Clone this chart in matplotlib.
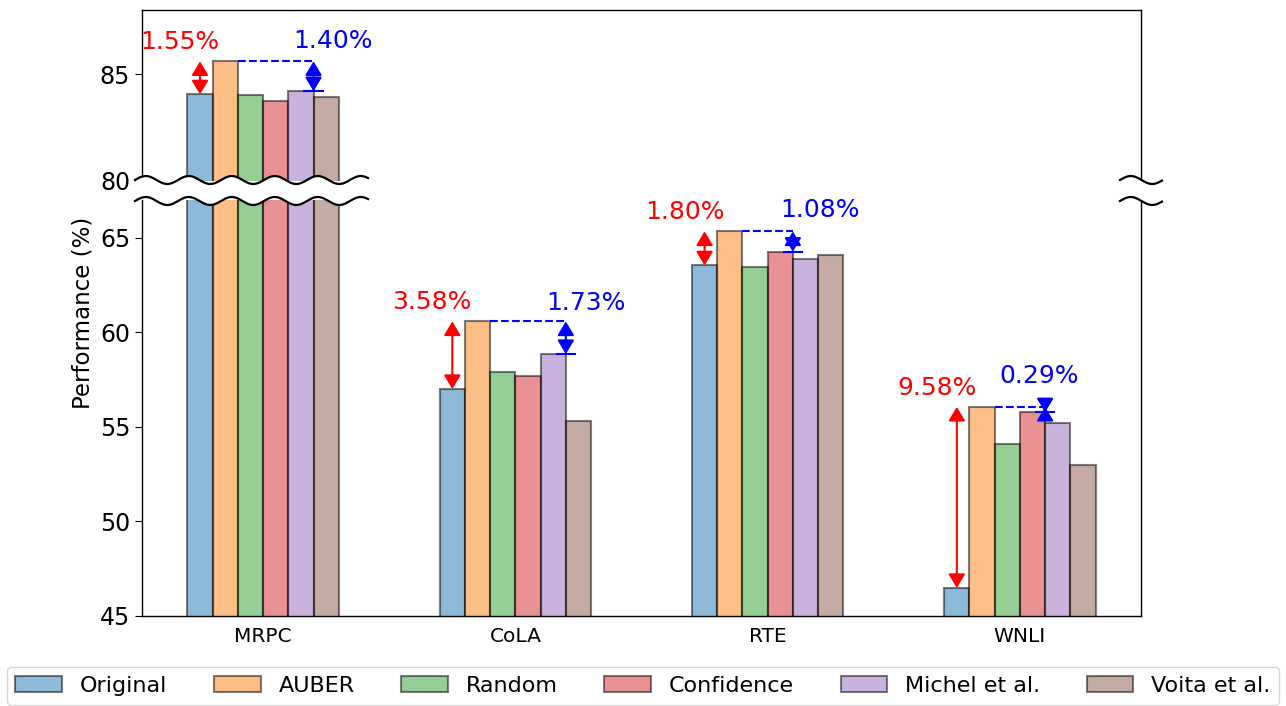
import numpy as np
import matplotlib
matplotlib.use("Agg")
import matplotlib.pyplot as plt

# ---- data -------------------------------------------------------------
tasks = ["MRPC", "CoLA", "RTE", "WNLI"]
methods = ["Original", "AUBER", "Random", "Confidence", "Michel et al.", "Voita et al."]

original = [84.05, 57.00, 63.54, 46.48]
auber = [85.60, 60.58, 65.34, 56.06]
random_prune = [84.01, 57.89, 63.45, 54.08]
confidence = [83.72, 57.70, 64.26, 55.77]
michel = [84.20, 58.85, 63.89, 55.23]
voita = [83.92, 55.33, 64.10, 52.97]

series = [original, auber, random_prune, confidence, michel, voita]
colors = ["tab:blue", "tab:orange", "tab:green", "tab:red", "tab:purple", "tab:brown"]

upper_ticks = [80, 85]
lower_ticks = [45, 50, 55, 60, 65]

# ---- layout -----------------------------------------------------------
W, H = 1286, 706
fig = plt.figure(figsize=(W / 100, H / 100), dpi=100)
left, right = 142 / W, 1141 / W
ax_top = fig.add_axes([left, 1 - 181 / H, right - left, (181 - 10) / H])
ax_bot = fig.add_axes([left, 1 - 616 / H, right - left, (616 - 200) / H])

x = np.arange(len(tasks))
width = 0.1

for j, (name, vals, col) in enumerate(zip(methods, series, colors)):
    pos = x + (j - 2.5) * width
    for ax in (ax_top, ax_bot):
        ax.bar(pos, vals, width, color=col, alpha=0.5, edgecolor="black",
               linewidth=1.5, label=name)

ax_top.set_ylim(80, 88)
ax_bot.set_ylim(45, 67)
ax_top.set_xlim(ax_bot.get_xlim())
ax_bot.set_xlim(ax_bot.get_xlim())

ax_top.set_yticks(upper_ticks)
ax_bot.set_yticks(lower_ticks)
for ax in (ax_top, ax_bot):
    ax.tick_params(axis="y", labelsize=17, length=5)
    for s in ax.spines.values():
        s.set_linewidth(1.0)
ax_top.spines["bottom"].set_visible(False)
ax_bot.spines["top"].set_visible(False)
ax_top.tick_params(axis="x", bottom=False, labelbottom=False)
ax_bot.set_xticks(x)
ax_bot.set_xticklabels(tasks)
ax_bot.tick_params(axis="x", length=0, labelsize=14.5, pad=8)

# ---- gain annotations -------------------------------------------------
arrow_style = "<|-|>,head_length=0.4,head_width=0.24"
blue_offsets = [(19, 20), (20, 18), (27, 21), (-6, 31)]


def axis_for(value):
    return ax_top if value > 67 else ax_bot


for i in range(len(tasks)):
    top_val = auber[i]
    ax = axis_for(top_val)

    # gain over the unpruned model
    xo = x[i] + (0 - 2.5) * width
    ax.annotate("", xy=(xo, original[i]), xytext=(xo, top_val),
                arrowprops=dict(arrowstyle=arrow_style, color="red", lw=1.5,
                                mutation_scale=21, shrinkA=0, shrinkB=0))
    ax.annotate(f"{top_val - original[i]:.2f}%", xy=(xo, top_val),
                xytext=(-20, 19), textcoords="offset pixels",
                ha="center", va="center", color="red", fontsize=18)

    # gain over the best competing pruning method
    baselines = [series[j][i] for j in range(2, 6)]
    jb = 2 + int(np.argmax(baselines))
    best = series[jb][i]
    xb = x[i] + (jb - 2.5) * width + width / 2
    xa = x[i] + (1 - 2.5) * width + width / 2
    ax.plot([xa, xb], [top_val, top_val], linestyle="--", color="blue", lw=1.5)
    ax.plot([xb - 0.036, xb + 0.036], [best, best], color="blue", lw=1.5)
    ax.annotate("", xy=(xb, best), xytext=(xb, top_val),
                arrowprops=dict(arrowstyle=arrow_style, color="blue", lw=1.5,
                                mutation_scale=21, shrinkA=0, shrinkB=0))
    ax.annotate(f"{top_val - best:.2f}%", xy=(xb, top_val),
                xytext=blue_offsets[i], textcoords="offset pixels",
                ha="center", va="center", color="blue", fontsize=18)

# ---- axis-break marks -------------------------------------------------
ov = fig.add_axes([0, 0, 1, 1])
ov.set_xlim(0, W)
ov.set_ylim(H, 0)
ov.axis("off")
ov.patch.set_alpha(0)
ov.set_zorder(10)


def wave(x0, x1, yc, amp=4.0, period=43.0):
    xs = np.linspace(x0, x1, 300)
    return xs, yc - amp * np.sin(2 * np.pi * (xs - x0) / period)


for x0, x1 in [(135, 368), (1120, 1162)]:
    xs, y_up = wave(x0, x1, 180)
    _, y_lo = wave(x0, x1, 201)
    ov.fill_between(xs, y_up, y_lo, color="white", lw=0)
    ov.plot(xs, y_up, color="black", lw=1.6)
    ov.plot(xs, y_lo, color="black", lw=1.6)

# ---- labels and legend ------------------------------------------------
fig.text(83 / W, 1 - 313 / H, "Performance (%)", rotation=90,
         ha="center", va="center", fontsize=16.5)

handles, labels = ax_bot.get_legend_handles_labels()
fig.legend(handles, labels, loc="upper center", bbox_to_anchor=(0.5, 1 - 667 / H),
           ncol=6, fontsize=16, handlelength=2.1, columnspacing=2.1,
           borderaxespad=0)

fig.savefig("out.png", dpi=100)
